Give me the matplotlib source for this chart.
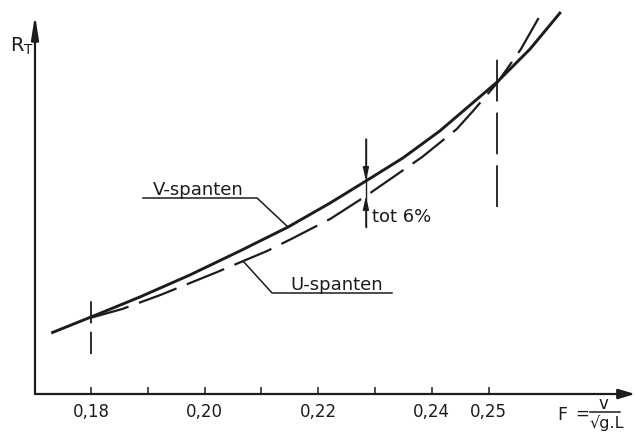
import numpy as np
import matplotlib.pyplot as plt

plt.rcParams['lines.scale_dashes'] = False
plt.rcParams['font.family'] = ['DejaVu Sans']

ink = '#1c1c1c'

# Froude number F and total resistance R_T (arbitrary units)
f_v = [0.1730, 0.1800, 0.1886, 0.1974, 0.2062, 0.2147, 0.2221, 0.2284,
       0.2349, 0.2414, 0.2515, 0.2573, 0.2627]
r_v = [6.1, 7.7, 9.7, 11.9, 14.3, 16.7, 19.1, 21.3, 23.6, 26.3, 31.2, 34.5, 38.2]

f_u = [0.1798, 0.1855, 0.1922, 0.2018, 0.2110, 0.2156, 0.2221, 0.2284,
       0.2383, 0.2444, 0.2471, 0.2515, 0.2557, 0.2594]
r_u = [7.6, 8.5, 9.9, 12.1, 14.3, 15.6, 17.5, 19.8, 23.7, 26.5, 28.2, 31.1, 34.5, 38.2]

tick_vals = [0.18, 0.19, 0.20, 0.21, 0.22, 0.23, 0.24, 0.25]
tick_labels = ['0,18', '', '0,20', '', '0,22', '', '0,24', '0,25']

# speed range markers (vertical dashed lines) and the 6% difference arrow
mark_lo = 0.18
mark_hi = 0.2515
diff_f = 0.2284
diff_top = 21.3   # V-spanten at diff_f
diff_bot = 19.8   # U-spanten at diff_f

fig = plt.figure(figsize=(6.35, 4.39), dpi=100)
fig.patch.set_facecolor('white')
ax = fig.add_axes([35 / 635, 44 / 439, 600 / 635, 395 / 439])
ax.set_xlim(0.17014, 0.27577)
ax.set_ylim(0, 39.5)
for s in ax.spines.values():
    s.set_visible(False)

# the two curves
ax.plot(f_v, r_v, color=ink, lw=2.1, solid_capstyle='butt', solid_joinstyle='round', clip_on=False)
ax.plot(f_u, r_u, color=ink, lw=1.6, dashes=(29, 8), dash_capstyle='butt', clip_on=False)

# range markers
ax.plot([mark_lo, mark_lo], [4.0, 9.7], color=ink, lw=1.3, dashes=(16, 6))
ax.plot([mark_hi, mark_hi], [18.7, 33.7], color=ink, lw=1.3, dashes=(30, 8))

# difference arrows
ax.plot([diff_f, diff_f], [16.7, 25.5], color=ink, lw=1.0)
ax.annotate('', xy=(diff_f, diff_top), xytext=(diff_f, 25.5),
            arrowprops=dict(arrowstyle='-|>,head_length=0.8,head_width=0.18',
                            color=ink, lw=1.0, shrinkA=0, shrinkB=0, mutation_scale=10))
ax.annotate('', xy=(diff_f, diff_bot), xytext=(diff_f, 16.7),
            arrowprops=dict(arrowstyle='-|>,head_length=0.8,head_width=0.18',
                            color=ink, lw=1.0, shrinkA=0, shrinkB=0, mutation_scale=10))
ax.text(0.2295, 17.8, 'tot 6%', fontsize=13, color=ink, ha='left', va='center')

# labels with leader lines
ax.text(0.1989, 20.0, 'V-spanten', fontsize=13, color=ink, ha='center', va='baseline')
ax.plot([0.18915, 0.20923, 0.21468], [19.6, 19.6, 16.7], color=ink, lw=1.1)

ax.text(0.2232, 10.5, 'U-spanten', fontsize=13, color=ink, ha='center', va='baseline')
ax.plot([0.20676, 0.21187, 0.23299], [13.3, 10.1, 10.1], color=ink, lw=1.1)

# axes with arrow heads
x0, x1 = ax.get_xlim()
ax.annotate('', xy=(x1, 0), xytext=(x0, 0),
            arrowprops=dict(arrowstyle='-|>,head_length=1.0,head_width=0.3',
                            color=ink, lw=1.6, shrinkA=0, shrinkB=0, mutation_scale=10))
ax.annotate('', xy=(x0, 37.9), xytext=(x0, 0),
            arrowprops=dict(arrowstyle='-|>,head_length=1.4,head_width=0.22',
                            color=ink, lw=1.6, shrinkA=0, shrinkB=0, mutation_scale=10))

ax.set_xticks(tick_vals, tick_labels)
ax.set_yticks([])
ax.tick_params(axis='x', direction='in', length=5, width=1.1, color=ink,
               labelsize=12, labelcolor=ink, pad=5.5)

ax.text(0.16574, 34.3, r'$\mathregular{R_T}$', fontsize=14, color=ink,
        ha='left', va='baseline', clip_on=False)

# F = v / sqrt(g.L), built from pieces like the hand lettering
ax.text(0.2620, -2.5, 'F', fontsize=12.5, color=ink, ha='left', va='baseline', clip_on=False)
ax.text(0.2664, -1.9, '=', fontsize=12, color=ink, ha='center', va='center', clip_on=False)
ax.plot([0.26785, 0.27313], [-1.8, -1.8], color=ink, lw=1.1, clip_on=False)
ax.text(0.27014, -1.45, 'v', fontsize=12, color=ink, ha='center', va='baseline', clip_on=False)
ax.text(0.26770, -2.0, '√g.L', fontsize=11.5, color=ink, ha='left', va='top', clip_on=False)

fig.savefig('out.png', dpi=100, facecolor='white')
